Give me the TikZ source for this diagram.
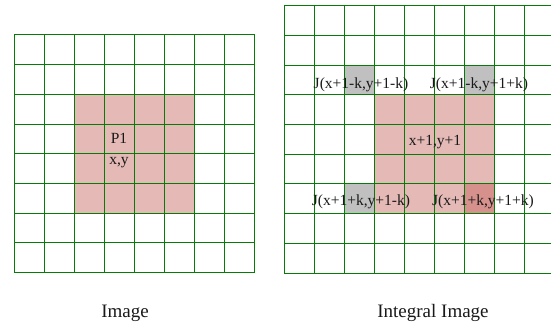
\documentclass[tikz,border=0pt]{standalone}
\usepackage{fontspec}
\setmainfont{Liberation Serif}
\definecolor{gridgreen}{HTML}{077A07}
\definecolor{pinkfill}{HTML}{E4B9B6}
\definecolor{darkpink}{HTML}{D6918D}
\definecolor{greyfill}{HTML}{C0C0C0}
\tikzset{
  gridline/.style={draw=gridgreen, line width=1pt},
  celltext/.style={font=\fontsize{15.5}{18}\selectfont, inner sep=0pt, text=black!90},
  captiontext/.style={font=\fontsize{19}{22}\selectfont, inner sep=0pt, text=black!90},
}
\begin{document}
\begin{tikzpicture}[x=1pt,y=-1pt]
\useasboundingbox (0,0) rectangle (551,334);
% ---------- left: Image ----------
\fill[pinkfill] (74,94.3) rectangle (194,213.2);
\foreach \i in {0,...,8} {
  \draw[gridline] ({14+30.1*\i},35) -- ({14+30.1*\i},272.5);
  \draw[gridline] (14,{35+29.69*\i}) -- (255,{35+29.69*\i});
}
\node[celltext] (p1) at (119,138) {P1};
\node[celltext] (xy) at (119,163) {x,y};
% ---------- right: Integral Image ----------
\fill[pinkfill] (374,95) rectangle (494,213.5);
\fill[greyfill] (344,65.2) rectangle (374,95);
\fill[greyfill] (464,65.2) rectangle (494,95);
\fill[greyfill] (344,183.8) rectangle (374,213.5);
\fill[darkpink] (464,183.8) rectangle (494,213.5);
\foreach \i in {0,...,9} {
  \draw[gridline] ({284+30*\i},5.7) -- ({284+30*\i},273);
  \draw[gridline] (284,{5.7+29.7*\i}) -- (560,{5.7+29.7*\i});
}
\node[celltext] (j1) at (361,85) {J(x+1-k,y+1-k)};
\node[celltext] (j2) at (479,85) {J(x+1-k,y+1+k)};
\node[celltext] (c) at (435,142) {x+1,y+1};
\node[celltext] (j3) at (361,202) {J(x+1+k,y+1-k)};
\node[celltext] (j4) at (483,202) {J(x+1+k,y+1+k)};
% ---------- captions ----------
\node[captiontext] (cap1) at (125,313) {Image};
\node[captiontext] (cap2) at (433,313) {Integral Image};
\end{tikzpicture}
\end{document}
